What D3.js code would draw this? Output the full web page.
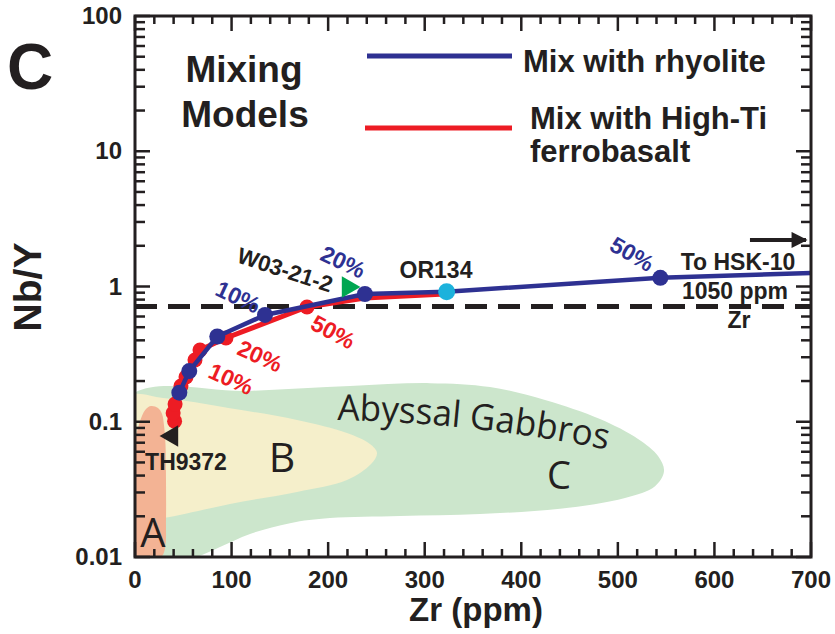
<!DOCTYPE html>
<html>
<head>
<meta charset="utf-8">
<script src="https://cdn.jsdelivr.net/npm/d3@7"></script>
<style>
  body { margin: 0; background: #fff; }
  svg { display: block; }
</style>
</head>
<body>
<svg id="chart" width="835" height="634"></svg>
<script>
// ---- Data: Zr (ppm) vs Nb/Y ----
// Mixing with rhyolite (blue): marked steps and line vertices
const rhyoliteMixPoints = [[45.9, 0.164], [56.2, 0.237], [85.2, 0.427], [134.6, 0.616], [238.1, 0.880], [544, 1.16]];
const rhyoliteMixLine = [[45.9, 0.164], [56.2, 0.237], [85.2, 0.427], [134.6, 0.616], [238.1, 0.880], [322.7, 0.915], [544, 1.16], [700, 1.26]];
// Mixing with high-Ti ferrobasalt (red)
const ferrobasaltMixPoints = [[41, 0.101], [39.5, 0.116], [41.5, 0.135], [47.6, 0.184], [52.8, 0.214], [62.1, 0.286], [67.3, 0.339], [94.2, 0.416], [178.1, 0.705]];
const ferrobasaltMixLine = [[41, 0.101], [39.5, 0.116], [41.5, 0.135], [47.6, 0.184], [52.8, 0.214], [62.1, 0.286], [67.3, 0.339], [94.2, 0.416], [178.1, 0.705], [238.2, 0.822], [321, 0.880]];
// Samples
const sampleNames = ["TH9372", "W03-21-2", "OR134"];
const sampleZr = [38.3, 220.6, 322.7];
const sampleNbY = [0.0785, 0.99, 0.915];
// Reference Nb/Y level (dashed)
const referenceNbY = 0.71;
// Fields
const fieldA = [[16.6, 0.1307], [23.8, 0.1265], [28.0, 0.1141], [30.0, 0.0946], [31.6, 0.0673], [32.1, 0.0371], [32.1, 0.0188], [31.1, 0.01165], [26.9, 0.0100], [-5, 0.0092], [-2, 0.0618], [3.1, 0.0899], [7.2, 0.1103], [11.4, 0.1242]];
const fieldB = [[-7.2, 0.152], [29, 0.150], [98.4, 0.126], [167.8, 0.103], [219.5, 0.0826], [243.3, 0.0685], [250.6, 0.0588], [244.4, 0.0487], [219.5, 0.0371], [167.8, 0.0303], [98.4, 0.0247], [29, 0.0194], [-7.2, 0.0185]];
const fieldC = [[-7.2, 0.150], [119, 0.169], [222.6, 0.184], [305.5, 0.193], [367.6, 0.1807], [424.6, 0.1449], [481.5, 0.1047], [520.9, 0.0746], [541.6, 0.0558], [547.8, 0.0433], [538.5, 0.0334], [507.4, 0.0273], [440.1, 0.0227], [357.3, 0.0208], [274.4, 0.0201], [201.9, 0.0194], [160.5, 0.0178], [119.1, 0.0148], [88, 0.01186], [62.1, 0.0099], [36.2, 0.0092], [-7.2, 0.0092]];
// Axis ticks
const xTickValues = [0, 100, 200, 300, 400, 500, 600, 700];
const yTickValues = [0.01, 0.1, 1, 10, 100];
const yTickLabels = ["0.01", "0.1", "1", "10", "100"];

// ---- Layout ----
const plot = { left: 135, right: 811, top: 16, bottom: 557 };
const INK = "#231F20";
const BLUE = "#2E3192";
const RED = "#ED1C24";
const FONT = "'Liberation Sans', Arial, Helvetica, sans-serif";
const FIELD_FONT = "'Open Sans', 'Noto Sans', sans-serif";

const x = d3.scaleLinear().domain([0, 700]).range([plot.left, plot.right]);
const y = d3.scaleLog().domain([0.01, 100]).range([plot.bottom, plot.top]);

const svg = d3.select("#chart");
const defs = svg.append("defs");
defs.append("clipPath").attr("id", "plotClip")
  .append("rect")
  .attr("x", plot.left).attr("y", plot.top)
  .attr("width", plot.right - plot.left).attr("height", plot.bottom - plot.top);

const inner = svg.append("g").attr("clip-path", "url(#plotClip)");

// Fields (closed smooth outlines)
const fieldPath = d3.line().x(d => x(d[0])).y(d => y(d[1])).curve(d3.curveCatmullRomClosed.alpha(0.5));
inner.append("path").datum(fieldC).attr("d", fieldPath).attr("fill", "#CCE6CC");
inner.append("path").datum(fieldB).attr("d", fieldPath).attr("fill", "#F5EFCB");
inner.append("path").datum(fieldA).attr("d", fieldPath).attr("fill", "#F3B394");

// Field labels
const fieldText = (txt, zr, nby, size) => inner.append("text")
  .attr("x", x(zr)).attr("y", y(nby))
  .attr("text-anchor", "middle")
  .attr("font-family", FIELD_FONT).attr("font-size", size)
  .attr("fill", INK).text(txt);
fieldText("A", 18.6, 0.01186, 40);
fieldText("B", 152.2, 0.0425, 41);
fieldText("C", 439, 0.0318, 38);

// "Abyssal Gabbros" along a gentle curve
const guide = [[209.2, 0.103], [357.3, 0.0975], [491.9, 0.0615]].map(d => [x(d[0]), y(d[1])]);
defs.append("path").attr("id", "gabbroGuide")
  .attr("d", `M${guide[0][0]},${guide[0][1]} Q${guide[1][0]},${guide[1][1]} ${guide[2][0]},${guide[2][1]}`);
inner.append("text")
  .attr("font-family", FIELD_FONT).attr("font-size", 36).attr("fill", INK)
  .append("textPath").attr("href", "#gabbroGuide")
  .attr("textLength", 272).attr("lengthAdjust", "spacingAndGlyphs")
  .text("Abyssal  Gabbros");

// Dashed reference line
inner.append("line")
  .attr("x1", x(0)).attr("x2", x(700))
  .attr("y1", y(referenceNbY)).attr("y2", y(referenceNbY))
  .attr("stroke", INK).attr("stroke-width", 5)
  .attr("stroke-dasharray", "22,11");

// Red mixing curve
const curve = d3.line().x(d => x(d[0])).y(d => y(d[1]));
inner.append("path").datum(ferrobasaltMixLine).attr("d", curve)
  .attr("fill", "none").attr("stroke", RED).attr("stroke-width", 5)
  .attr("stroke-linejoin", "round").attr("stroke-linecap", "round");
inner.selectAll("circle.red").data(ferrobasaltMixPoints).join("circle")
  .attr("class", "red")
  .attr("cx", d => x(d[0])).attr("cy", d => y(d[1])).attr("r", 7.5)
  .attr("fill", RED);

// Blue mixing curve
inner.append("path").datum(rhyoliteMixLine).attr("d", curve)
  .attr("fill", "none").attr("stroke", BLUE).attr("stroke-width", 4.5)
  .attr("stroke-linejoin", "round");
inner.selectAll("circle.blue").data(rhyoliteMixPoints).join("circle")
  .attr("class", "blue")
  .attr("cx", d => x(d[0])).attr("cy", d => y(d[1])).attr("r", 8)
  .attr("fill", BLUE);

// Samples
const tri = d3.symbol().type(d3.symbolTriangle).size(200);
inner.append("path").attr("d", tri())
  .attr("transform", `translate(${x(sampleZr[0])},${y(sampleNbY[0])}) rotate(-90)`)
  .attr("fill", INK);
inner.append("path").attr("d", tri())
  .attr("transform", `translate(${x(sampleZr[1])},${y(sampleNbY[1])}) rotate(90)`)
  .attr("fill", "#00A651");
inner.append("circle")
  .attr("cx", x(sampleZr[2])).attr("cy", y(sampleNbY[2])).attr("r", 8.5)
  .attr("fill", "#1CB2DC");

// Rotated labels helper
function label(txt, zr, nby, opts) {
  const o = Object.assign({ size: 23, color: INK, rotate: 0, anchor: "middle", weight: "bold" }, opts || {});
  svg.append("text")
    .attr("transform", `translate(${x(zr)},${y(nby)}) rotate(${o.rotate})`)
    .attr("text-anchor", o.anchor).attr("dominant-baseline", "central")
    .attr("font-family", FONT).attr("font-weight", o.weight).attr("font-size", o.size)
    .attr("fill", o.color).text(txt);
}
// Percent markers
label("10%", 106.7, 0.836, { color: BLUE, rotate: 25 });
label("20%", 215.4, 1.52, { color: BLUE, rotate: 25 });
label("50%", 514.7, 1.74, { color: BLUE, rotate: 30 });
label("10%", 99.4, 0.207, { color: RED, rotate: 24 });
label("20%", 129.4, 0.306, { color: RED, rotate: 24 });
label("50%", 205, 0.461, { color: RED, rotate: 28 });
// Sample names
label(sampleNames[0], 52.8, 0.0504, { size: 23 });
label(sampleNames[1], 155.3, 1.32, { size: 22.5, rotate: 18 });
label(sampleNames[2], 311.7, 1.32, { size: 23 });
// Off-scale end member
label("To HSK-10", 624.4, 1.52, { size: 23 });
label("1050 ppm", 621.3, 0.926, { size: 23 });
label("Zr", 625.5, 0.565, { size: 23 });
defs.append("marker").attr("id", "arrowHead")
  .attr("viewBox", "0 0 10 10").attr("refX", 9).attr("refY", 5)
  .attr("markerWidth", 6).attr("markerHeight", 4).attr("markerUnits", "strokeWidth")
  .attr("orient", "auto")
  .append("path").attr("d", "M0,0 L10,5 L0,10 z").attr("fill", INK);
svg.append("line")
  .attr("x1", x(636.8)).attr("x2", x(694.8))
  .attr("y1", y(2.21)).attr("y2", y(2.21))
  .attr("stroke", INK).attr("stroke-width", 4)
  .attr("marker-end", "url(#arrowHead)");

// ---- Frame and ticks ----
const axes = svg.append("g").attr("stroke", INK).attr("stroke-width", 2.5);
d3.range(0, 701, 20).forEach(v => {
  const len = v % 100 === 0 ? 15 : 8;
  axes.append("line").attr("x1", x(v)).attr("x2", x(v)).attr("y1", plot.bottom).attr("y2", plot.bottom - len);
  axes.append("line").attr("x1", x(v)).attr("x2", x(v)).attr("y1", plot.top).attr("y2", plot.top + len);
});
const yMinor = [];
[0.01, 0.1, 1, 10].forEach(d => { for (let m = 1; m <= 9; m++) yMinor.push(d * m); });
yMinor.push(100);
yMinor.forEach(v => {
  const major = yTickValues.some(t => Math.abs(t - v) / t < 1e-9);
  const len = major ? 15 : 10;
  axes.append("line").attr("x1", plot.left).attr("x2", plot.left + len).attr("y1", y(v)).attr("y2", y(v));
  axes.append("line").attr("x1", plot.right).attr("x2", plot.right - len).attr("y1", y(v)).attr("y2", y(v));
});
svg.append("rect")
  .attr("x", plot.left).attr("y", plot.top)
  .attr("width", plot.right - plot.left).attr("height", plot.bottom - plot.top)
  .attr("fill", "none").attr("stroke", INK).attr("stroke-width", 3);

// Tick labels
svg.selectAll("text.xt").data(xTickValues).join("text").attr("class", "xt")
  .attr("x", d => x(d)).attr("y", 588)
  .attr("text-anchor", "middle")
  .attr("font-family", FONT).attr("font-weight", "bold").attr("font-size", 24)
  .attr("fill", INK).text(d => d);
svg.selectAll("text.yt").data(yTickValues).join("text").attr("class", "yt")
  .attr("x", 122).attr("y", d => y(d) + 8)
  .attr("text-anchor", "end")
  .attr("font-family", FONT).attr("font-weight", "bold").attr("font-size", 24)
  .attr("fill", INK).text((d, i) => yTickLabels[i]);

// Axis titles
svg.append("text").attr("x", 476).attr("y", 621).attr("text-anchor", "middle")
  .attr("font-family", FONT).attr("font-weight", "bold").attr("font-size", 33)
  .attr("fill", INK).text("Zr (ppm)");
svg.append("text").attr("transform", "translate(41,287) rotate(-90)").attr("text-anchor", "middle")
  .attr("font-family", FONT).attr("font-weight", "bold").attr("font-size", 39)
  .attr("fill", INK).text("Nb/Y");

// Panel letter and title
svg.append("text").attr("x", 30).attr("y", 89).attr("text-anchor", "middle")
  .attr("font-family", FONT).attr("font-weight", "bold").attr("font-size", 64)
  .attr("fill", INK).text("C");
svg.append("text").attr("x", 244).attr("y", 82).attr("text-anchor", "middle")
  .attr("font-family", FONT).attr("font-weight", "bold").attr("font-size", 37)
  .attr("fill", INK).text("Mixing");
svg.append("text").attr("x", 245).attr("y", 127).attr("text-anchor", "middle")
  .attr("font-family", FONT).attr("font-weight", "bold").attr("font-size", 37)
  .attr("fill", INK).text("Models");

// Legend
const legend = svg.append("g");
legend.append("line").attr("x1", 367).attr("x2", 512).attr("y1", 56).attr("y2", 56)
  .attr("stroke", BLUE).attr("stroke-width", 5);
legend.append("text").attr("x", 523).attr("y", 72)
  .attr("font-family", FONT).attr("font-weight", "bold").attr("font-size", 31)
  .attr("fill", INK).text("Mix with rhyolite");
legend.append("line").attr("x1", 365).attr("x2", 512).attr("y1", 128).attr("y2", 128)
  .attr("stroke", RED).attr("stroke-width", 5);
legend.append("text").attr("x", 530).attr("y", 129)
  .attr("font-family", FONT).attr("font-weight", "bold").attr("font-size", 31)
  .attr("fill", INK).text("Mix with High-Ti");
legend.append("text").attr("x", 530).attr("y", 162)
  .attr("font-family", FONT).attr("font-weight", "bold").attr("font-size", 31)
  .attr("fill", INK).text("ferrobasalt");
</script>
</body>
</html>
